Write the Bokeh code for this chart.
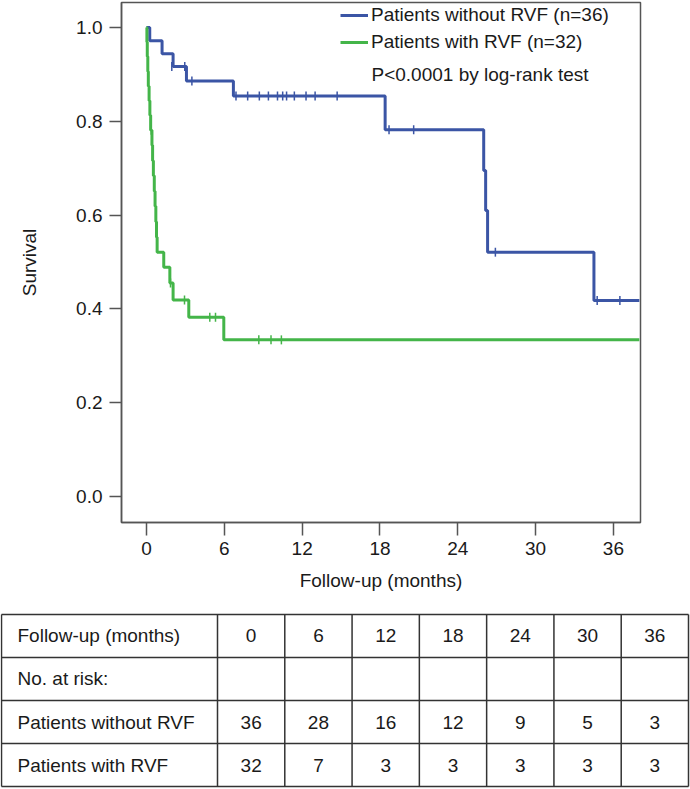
import math
from bokeh.plotting import figure
from bokeh.models import (Range1d, FixedTicker, Legend, LegendItem, Label,
                          ColumnDataSource, NumeralTickFormatter)
from bokeh.layouts import column
from bokeh.embed import file_html
from bokeh.resources import INLINE
from bokeh.core.properties import value

FONT = "Liberation Sans"
BLUE = "#3B55A5"
GREEN = "#44B549"
AXIS = "#555555"
TXT = "#1a1a1a"
GRIDC = "#333333"

# ---------------- data ----------------
# Patients without RVF: step times (months) and survival after each step
t_without = [0, 0.25, 1.2, 2.05, 3.08, 6.7, 18.4, 26.0, 26.15, 26.3, 34.5, 38.0]
s_without = [1.0, 0.972, 0.944, 0.917, 0.886, 0.854, 0.782, 0.695, 0.61, 0.521, 0.418, 0.418]
cens_t_without = [1.95, 2.95, 3.5, 6.9, 7.8, 8.7, 9.4, 10.1, 10.5, 10.8, 11.4, 12.3, 13.0, 14.7,
                  18.7, 20.6, 26.9, 34.75, 36.5]
cens_s_without = [0.917, 0.917, 0.886, 0.854, 0.854, 0.854, 0.854, 0.854, 0.854, 0.854, 0.854,
                  0.854, 0.854, 0.854, 0.782, 0.782, 0.521, 0.418, 0.418]

# Patients with RVF
t_with = [0, 0.03, 0.06, 0.1, 0.14, 0.2, 0.26, 0.32, 0.42, 0.47, 0.53, 0.6, 0.66, 0.72, 0.77,
          0.82, 1.33, 1.8, 2.05, 3.26, 5.96, 38.0]
s_with = [1.0, 0.969, 0.938, 0.906, 0.875, 0.844, 0.813, 0.781, 0.749, 0.716, 0.684, 0.651,
          0.619, 0.586, 0.553, 0.521, 0.489, 0.455, 0.419, 0.382, 0.334, 0.334]
cens_t_with = [0.36, 1.85, 2.93, 4.88, 5.32, 8.66, 9.6, 10.4]
cens_s_with = [0.781, 0.455, 0.419, 0.382, 0.382, 0.334, 0.334, 0.334]

legend_labels = ["Patients without RVF (n=36)", "Patients with RVF (n=32)"]
p_text = "P<0.0001 by log-rank test"

x_ticks = [0, 6, 12, 18, 24, 30, 36]
y_ticks = [0.0, 0.2, 0.4, 0.6, 0.8, 1.0]

# risk table
months = [0, 6, 12, 18, 24, 30, 36]
risk_without = [36, 28, 16, 12, 9, 5, 3]
risk_with = [32, 7, 3, 3, 3, 3, 3]
row_labels = ["Follow-up (months)", "No. at risk:", "Patients without RVF", "Patients with RVF"]

# ---------------- layout constants (canvas pixels) ----------------
W = 690
FL, FT, FW, FH = 121, 2, 519, 520          # plot frame left, top, width, height
FB = FT + FH                               # frame bottom
PLOT_H = 612                               # height of the survival figure
TBL_L, TBL_R, TBL_T, ROW_H = 1, 688, 614, 43.25
LABEL_COL_R = 217
TBL_H = 789 - PLOT_H - 1

# ---------------- survival plot ----------------
p = figure(width=W, height=PLOT_H,
           min_border_left=FL, min_border_right=W - FL - FW, min_border_top=FT,
           min_border_bottom=PLOT_H - FB,
           x_range=Range1d(-1.928, 38.09), y_range=Range1d(-0.0554, 1.0533),
           toolbar_location=None, output_backend="svg", tools="")
p.frame_align = False
p.grid.visible = False
p.outline_line_color = AXIS
p.outline_line_width = 1.5
p.background_fill_color = "white"
p.border_fill_color = "white"

for ax in (p.xaxis[0], p.yaxis[0]):
    ax.axis_line_color = AXIS
    ax.axis_line_width = 1.5
    ax.major_tick_line_color = AXIS
    ax.major_tick_line_width = 1.5
    ax.major_tick_in = 0
    ax.minor_tick_line_color = None
    ax.major_label_text_font = FONT
    ax.major_label_text_font_size = "19px"
    ax.major_label_text_color = TXT
    ax.axis_label_text_font = FONT
    ax.axis_label_text_font_size = "19px"
    ax.axis_label_text_font_style = "normal"
    ax.axis_label_text_color = TXT

p.xaxis.ticker = FixedTicker(ticks=x_ticks)
p.xaxis.major_tick_out = 13
p.xaxis.major_label_standoff = 6
p.xaxis.axis_label = "Follow-up (months)"
p.xaxis.axis_label_standoff = 12

p.yaxis.ticker = FixedTicker(ticks=y_ticks)
p.yaxis.formatter = NumeralTickFormatter(format="0.0")
p.yaxis.major_tick_out = 12
p.yaxis.major_label_standoff = 7
p.yaxis.axis_label = "Survival"
p.yaxis.axis_label_standoff = 33

r_without = p.step(t_without, s_without, mode="after", line_color=BLUE, line_width=3)
r_with = p.step(t_with, s_with, mode="after", line_color=GREEN, line_width=3)
p.scatter(cens_t_without, cens_s_without, marker="dash", angle=math.pi / 2, size=9,
          line_color=BLUE, line_width=1.5)
p.scatter(cens_t_with, cens_s_with, marker="dash", angle=math.pi / 2, size=9,
          line_color=GREEN, line_width=1.5)

legend = Legend(items=[LegendItem(label=legend_labels[0], renderers=[r_without]),
                       LegendItem(label=legend_labels[1], renderers=[r_with])],
                location=(340 - FL, FB - 53), padding=0, margin=0, spacing=5,
                glyph_width=28, glyph_height=20, label_height=20, label_standoff=3,
                border_line_alpha=0, background_fill_alpha=0,
                label_text_font=FONT, label_text_font_size="19px", label_text_color=TXT)
p.add_layout(legend)

p.add_layout(Label(x=371 - FL, y=FB - 74, x_units="screen", y_units="screen", text=p_text,
                   text_font=FONT, text_font_size="19px", text_color=TXT,
                   text_baseline="middle"))

# ---------------- risk table: its own figure, one data unit = one canvas pixel ----------
tbl = figure(width=W, height=TBL_H, min_border=0,
             x_range=Range1d(0, W), y_range=Range1d(789, PLOT_H),
             toolbar_location=None, output_backend="svg", tools="")
tbl.frame_align = False
tbl.axis.visible = False
tbl.grid.visible = False
tbl.outline_line_color = None
tbl.background_fill_color = "white"
tbl.border_fill_color = "white"

nrow = len(row_labels)
ncol = len(months)
col_w = (TBL_R - LABEL_COL_R) / ncol
v_edges = [TBL_L, LABEL_COL_R] + [LABEL_COL_R + col_w * (i + 1) for i in range(ncol)]
h_edges = [TBL_T + ROW_H * r for r in range(nrow + 1)]

x0, y0, x1, y1 = [], [], [], []
for yy in h_edges:
    x0.append(TBL_L); x1.append(TBL_R); y0.append(yy); y1.append(yy)
for xx in v_edges:
    x0.append(xx); x1.append(xx); y0.append(h_edges[0]); y1.append(h_edges[-1])
tbl.segment(x0=x0, y0=y0, x1=x1, y1=y1, line_color=GRIDC, line_width=1.5)

row_cy = [TBL_T + ROW_H * (r + 0.5) for r in range(nrow)]
tbl.text(x=[TBL_L + 16] * nrow, y=row_cy, text=row_labels,
         text_font=value(FONT), text_font_size="19px", text_color=TXT,
         text_align="left", text_baseline="middle")

col_cx = [LABEL_COL_R + col_w * (i + 0.5) for i in range(ncol)]
nx, ny, nt = [], [], []
for vals, r in ((months, 0), (risk_without, 2), (risk_with, 3)):
    for i, v in enumerate(vals):
        nx.append(col_cx[i]); ny.append(row_cy[r]); nt.append(str(v))
tbl.text(x=nx, y=ny, text=nt, text_font=value(FONT), text_font_size="19px",
         text_color=TXT, text_align="center", text_baseline="middle")

layout = column(p, tbl, spacing=0)
open("out.html", "w").write(file_html(layout, INLINE))
